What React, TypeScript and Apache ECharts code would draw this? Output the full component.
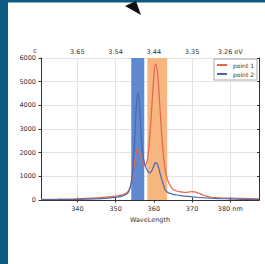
import React, { useEffect, useRef } from "react";
import * as echarts from "echarts";

const wavelengths = [330.5, 335, 340, 345, 348, 350, 351, 352, 353, 353.5, 354, 354.5, 355, 355.4, 355.8, 356.2, 356.6, 357, 357.5, 358, 358.5, 359, 359.5, 360, 360.4, 360.8, 361.2, 361.6, 362, 362.5, 363, 363.5, 364, 365, 366, 367, 368, 369, 370, 371, 372, 373, 374, 375, 377, 380, 383, 387.5];
const point1 = [30, 35, 50, 90, 130, 160, 190, 230, 320, 420, 650, 1050, 1600, 2000, 2150, 2050, 1800, 1550, 1450, 1500, 1900, 2800, 4000, 5200, 5750, 5600, 4900, 3900, 2900, 1900, 1250, 900, 700, 450, 380, 340, 320, 330, 350, 330, 270, 200, 150, 115, 95, 80, 70, 50];
const point2 = [10, 15, 25, 50, 80, 110, 140, 180, 260, 380, 650, 1300, 2600, 3900, 4550, 4100, 3000, 2100, 1600, 1350, 1200, 1150, 1250, 1450, 1580, 1550, 1400, 1150, 900, 650, 420, 340, 290, 240, 210, 185, 165, 150, 135, 120, 105, 95, 85, 75, 60, 45, 30, 15];
const bottomTicks = [340, 350, 360, 370, 380];
const bottomLabels = ["340", "350", "360", "370", "380 nm"];
const topLabels = ["3.65", "3.54", "3.44", "3.35", "3.26 eV"];
const blueBand = [354.1, 357.5];
const orangeBand = [358.3, 363.5];
const seriesNames = ["point 1", "point 2"];

const FONT = "DejaVu Sans";

export default function App() {
  const ref = useRef<HTMLDivElement>(null);
  useEffect(() => {
    if (!ref.current) return;
    const chart = echarts.init(ref.current, undefined, { renderer: "svg" });
    const d1 = wavelengths.map((w, i) => [w, point1[i]]);
    const d2 = wavelengths.map((w, i) => [w, point2[i]]);
    const labelStyle = { fontFamily: FONT, fontSize: 6.5, color: "#333333" };
    chart.setOption({
      animation: false,
      backgroundColor: "#ffffff",
      textStyle: { fontFamily: FONT },
      grid: { left: 41, right: 6, top: 58, bottom: 64, show: false, containLabel: false, outerBoundsMode: "none" },
      legend: {
        data: seriesNames,
        orient: "vertical",
        right: 8,
        top: 59,
        itemWidth: 10,
        itemHeight: 2,
        itemGap: 3,
        padding: [3, 3, 3, 3],
        borderColor: "#aaaaaa",
        borderWidth: 1,
        backgroundColor: "#ffffff",
        textStyle: { fontFamily: FONT, fontSize: 6, color: "#333", padding: [0, 0, 0, 1] },
        icon: "rect",
      },
      xAxis: [
        {
          type: "value",
          position: "bottom",
          min: 330.5,
          max: 387.5,
          name: "WaveLength",
          nameLocation: "middle",
          nameGap: 15,
          nameTextStyle: { fontFamily: FONT, fontSize: 6.5, color: "#333" },
          axisLine: { show: true, lineStyle: { color: "#333", width: 1 } },
          axisTick: { show: true, length: 2.5, customValues: bottomTicks, lineStyle: { color: "#333" } },
          axisLabel: {
            ...labelStyle,
            margin: 5,
            customValues: bottomTicks,
            formatter: (v: number) => bottomLabels[bottomTicks.indexOf(Math.round(v))] ?? "",
          },
          splitLine: { show: true, lineStyle: { color: "#e3e3e3", width: 1 } },
        },
        {
          type: "value",
          position: "top",
          min: 330.5,
          max: 387.5,
          axisLine: { show: true, lineStyle: { color: "#333", width: 1 } },
          axisTick: { show: true, length: 2.5, customValues: bottomTicks, lineStyle: { color: "#333" } },
          axisLabel: {
            ...labelStyle,
            margin: 3,
            customValues: bottomTicks,
            formatter: (v: number) => topLabels[bottomTicks.indexOf(Math.round(v))] ?? "",
          },
          splitLine: { show: false },
        },
      ],
      yAxis: [
        {
          type: "value",
          min: 0,
          max: 6000,
          interval: 1000,
          name: "Counts",
          nameLocation: "middle",
          nameRotate: 90,
          nameGap: 25,
          nameTextStyle: { fontFamily: FONT, fontSize: 6.5, color: "#333" },
          axisLine: { show: true, lineStyle: { color: "#333", width: 1 } },
          axisTick: { show: true, length: 2.5, lineStyle: { color: "#333" } },
          axisLabel: { ...labelStyle, margin: 5, formatter: (v: number) => String(v) },
          splitLine: { show: true, lineStyle: { color: "#e3e3e3", width: 1 } },
        },
        {
          type: "value",
          position: "right",
          min: 0,
          max: 6000,
          interval: 1000,
          axisLine: { show: true, lineStyle: { color: "#333", width: 1 } },
          axisTick: { show: true, inside: true, length: 2, lineStyle: { color: "#333" } },
          axisLabel: { show: false },
          splitLine: { show: false },
        },
      ],
      series: [
        {
          type: "line",
          name: "bands",
          data: [],
          silent: true,
          z: 1,
          markArea: {
            silent: true,
            data: [
              [
                { xAxis: blueBand[0], itemStyle: { color: "#5f89cf", opacity: 1 } },
                { xAxis: blueBand[1] },
              ],
              [
                { xAxis: orangeBand[0], itemStyle: { color: "#f7b57f", opacity: 1 } },
                { xAxis: orangeBand[1] },
              ],
            ],
          },
        },
        {
          type: "line",
          name: seriesNames[0],
          data: d1,
          showSymbol: false,
          smooth: 0.3,
          z: 3,
          color: "#e2674a",
          lineStyle: { color: "#e2674a", width: 1.2 },
        },
        {
          type: "line",
          name: seriesNames[1],
          data: d2,
          showSymbol: false,
          smooth: 0.3,
          z: 4,
          color: "#4a67b0",
          lineStyle: { color: "#4a67b0", width: 1.2 },
        },
      ],
      graphic: [
        { type: "rect", shape: { x: 0, y: 0, width: 8, height: 264 }, style: { fill: "#0c5a80" }, z: 10 },
        { type: "rect", shape: { x: 0, y: 0, width: 265, height: 2.5 }, style: { fill: "#0c5a80" }, z: 10 },
        {
          type: "polygon",
          shape: { points: [[125, 6], [136, 1], [141, 15]] },
          style: { fill: "#111" },
          z: 11,
        },
        {
          type: "text",
          x: 35,
          y: 51,
          style: { text: "c", fontFamily: FONT, fontSize: 6.5, fill: "#333333", align: "center", verticalAlign: "middle" },
        },
      ],
    });
    return () => chart.dispose();
  }, []);
  return <div ref={ref} style={{ position: "fixed", left: 0, top: 0, width: 265, height: 264 }} />;
}
